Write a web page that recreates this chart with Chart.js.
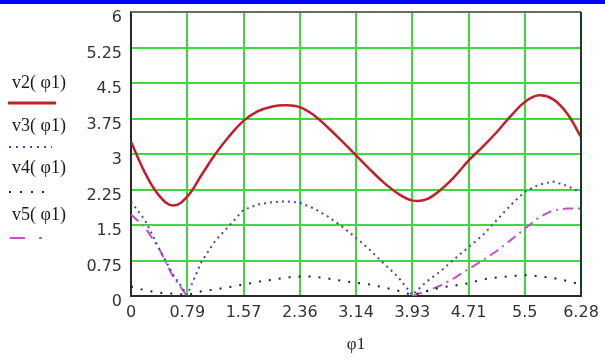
<!DOCTYPE html>
<html lang="en">
<head>
<meta charset="UTF-8">
<title>v2..v5 against phi1</title>
<script src="https://cdn.jsdelivr.net/npm/chart.js"></script>
<style>
  body { margin: 0; background: #ffffff; }
  .wrap { position: relative; width: 605px; height: 361px; }
  .topbar { position: absolute; left: 0; top: 0; width: 605px; height: 4px; background: #0000ff; }
  canvas { position: absolute; left: 0; top: 0; }
</style>
</head>
<body>
<div class="wrap">
  <canvas id="plot" width="605" height="361"></canvas>
  <div class="topbar"></div>
</div>
<script>
// phi1 sample points (step pi/16)
const phi = [0, 0.196, 0.393, 0.589, 0.785, 0.982, 1.178, 1.374, 1.571, 1.767, 1.963,
             2.160, 2.356, 2.553, 2.749, 2.945, 3.142, 3.338, 3.534, 3.731, 3.927,
             4.123, 4.320, 4.516, 4.712, 4.909, 5.105, 5.301, 5.498, 5.694, 5.890,
             6.087, 6.283];

const v2 = [3.26, 2.60, 2.12, 1.91, 2.10, 2.55, 3.00, 3.38, 3.70, 3.90, 4.00,
            4.03, 3.99, 3.82, 3.56, 3.27, 2.97, 2.67, 2.39, 2.16, 2.02,
            2.04, 2.24, 2.52, 2.86, 3.15, 3.46, 3.80, 4.10, 4.24, 4.16,
            3.86, 3.36];

const v3 = [1.99, 1.60, 1.00, 0.45, 0.02, 0.72, 1.17, 1.49, 1.82, 1.93, 1.98,
            2.00, 1.97, 1.85, 1.68, 1.47, 1.23, 0.97, 0.68, 0.40, 0.02,
            0.30, 0.52, 0.78, 1.03, 1.28, 1.60, 1.92, 2.20, 2.35, 2.42,
            2.33, 2.18];

const v4 = [0.20, 0.12, 0.07, 0.05, 0.02, 0.10, 0.14, 0.19, 0.24, 0.30, 0.34,
            0.39, 0.41, 0.41, 0.37, 0.32, 0.28, 0.24, 0.18, 0.11, 0.02,
            0.10, 0.18, 0.22, 0.27, 0.35, 0.39, 0.42, 0.44, 0.42, 0.38,
            0.32, 0.24];

const v5 = [1.72, 1.45, 1.00, 0.40, 0.00, null, null, null, null, null, null,
            null, null, null, null, null, null, null, null, null, 0.00,
            0.10, 0.22, 0.38, 0.57, 0.75, 0.95, 1.18, 1.42, 1.66, 1.81,
            1.85, 1.85];

const seriesNames = ['v2( φ1)', 'v3( φ1)', 'v4( φ1)', 'v5( φ1)'];
const xTickLabels = ['0', '0.79', '1.57', '2.36', '3.14', '3.93', '4.71', '5.5', '6.28'];
const yTickLabels = ['0', '0.75', '1.5', '2.25', '3', '3.75', '4.5', '5.25', '6'];

function pts(ys) {
  return phi.map((x, i) => ({ x: x, y: ys[i] }));
}

// legend drawn to the left of the plot, text above a line sample
const legendPlugin = {
  id: 'sideLegend',
  afterDraw(chart) {
    const ctx = chart.ctx;
    const rows = [
      { ty: 83,  ly: 103, x1: 8,  x2: 56, dash: [] },
      { ty: 126, ly: 147, x1: 9,  x2: 52, dash: [2, 5] },
      { ty: 168, ly: 192, x1: 9,  x2: 52, dash: [2, 9] },
      { ty: 215, ly: 238, x1: 10, x2: 44, dash: [15, 14, 3, 40] }
    ];
    ctx.save();
    rows.forEach((r, i) => {
      const ds = chart.data.datasets[i];
      ctx.font = '18px "Liberation Serif", serif';
      ctx.fillStyle = '#1a1a1a';
      ctx.textBaseline = 'middle';
      ctx.textAlign = 'left';
      ctx.fillText(seriesNames[i], 12, r.ty);
      ctx.strokeStyle = ds.borderColor;
      ctx.lineWidth = i === 0 ? 3 : 2;
      ctx.setLineDash(r.dash);
      ctx.beginPath();
      ctx.moveTo(r.x1, r.ly);
      ctx.lineTo(r.x2, r.ly);
      ctx.stroke();
    });
    ctx.restore();
  }
};

// top and right edges of the plot frame
const framePlugin = {
  id: 'frame',
  afterDatasetsDraw(chart) {
    const { ctx, chartArea: a } = chart;
    ctx.save();
    ctx.lineWidth = 2;
    ctx.strokeStyle = '#6a6a6a';
    ctx.beginPath();
    ctx.moveTo(a.left, a.top);
    ctx.lineTo(a.right, a.top);
    ctx.stroke();
    ctx.strokeStyle = '#1f3a1f';
    ctx.beginPath();
    ctx.moveTo(a.right, a.top);
    ctx.lineTo(a.right, a.bottom);
    ctx.stroke();
    ctx.restore();
  }
};

const gridGreen = '#40d840';

new Chart(document.getElementById('plot'), {
  type: 'line',
  data: {
    datasets: [
      { label: seriesNames[0], data: pts(v2), borderColor: '#c41e2a', borderWidth: 2.5,
        tension: 0.4, pointRadius: 0 },
      { label: seriesNames[1], data: pts(v3), borderColor: '#4848b0', borderWidth: 2,
        borderDash: [2, 4], tension: 0, pointRadius: 0 },
      { label: seriesNames[2], data: pts(v4), borderColor: '#222222', borderWidth: 2,
        borderDash: [2, 8], tension: 0, pointRadius: 0 },
      { label: seriesNames[3], data: pts(v5), borderColor: '#c44fc8', borderWidth: 2,
        borderDash: [10, 5, 2, 5], tension: 0, pointRadius: 0, spanGaps: false }
    ]
  },
  options: {
    responsive: false,
    animation: false,
    layout: { padding: { left: 0, right: 24, top: 12, bottom: 0 } },
    plugins: { legend: { display: false }, tooltip: { enabled: false } },
    scales: {
      x: {
        type: 'linear',
        min: 0,
        max: 2 * Math.PI,
        afterFit(scale) {
          scale.height = 65;
          scale.paddingLeft = 0;
          scale.paddingRight = 0;
        },
        grid: { color: gridGreen, lineWidth: 2, drawTicks: false },
        border: { color: '#2a2a2a', width: 2 },
        ticks: {
          stepSize: Math.PI / 4,
          padding: 7,
          color: '#333',
          font: { family: '"DejaVu Sans", sans-serif', size: 16 },
          maxRotation: 0,
          autoSkip: false,
          callback: (v, i) => xTickLabels[i]
        },
        title: {
          display: true,
          text: 'φ1',
          color: '#222',
          font: { family: '"Liberation Serif", serif', size: 17 },
          padding: { top: 2, bottom: 6 }
        }
      },
      y: {
        min: 0,
        max: 6,
        afterFit(scale) {
          scale.width = 131;
          scale.paddingTop = 0;
          scale.paddingBottom = 0;
        },
        afterUpdate(scale) {
          // labels sit a little below their grid lines in the original
          const orig = scale._computeLabelItems;
          if (typeof orig !== 'function') return;
          scale._computeLabelItems = function (area) {
            const items = orig.call(this, area);
            items.forEach(it => {
              if (it.options && Array.isArray(it.options.translation)) {
                it.options.translation[1] += 3;
              }
            });
            return items;
          };
        },
        grid: { color: gridGreen, lineWidth: 2, drawTicks: false },
        border: { color: '#2a2a2a', width: 2 },
        ticks: {
          stepSize: 0.75,
          padding: 9,
          color: '#333',
          font: { family: '"DejaVu Sans", sans-serif', size: 16 },
          callback: (v, i) => yTickLabels[i]
        }
      }
    }
  },
  plugins: [legendPlugin, framePlugin]
});
</script>
</body>
</html>
